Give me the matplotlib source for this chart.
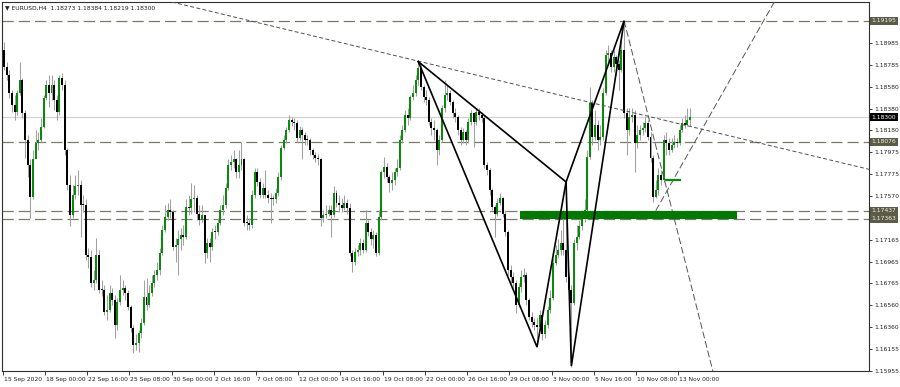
import matplotlib
matplotlib.use("Agg")
import matplotlib.pyplot as plt
from matplotlib import font_manager as fm
import matplotlib.transforms as mtransforms

names = {f.name for f in fm.fontManager.ttflist}
NARROW = 'Liberation Sans Narrow' in names
FONT = 'Liberation Sans Narrow' if NARROW else 'DejaVu Sans'
plt.rcParams['font.family'] = [FONT, 'DejaVu Sans']
FS = 5.0 if NARROW else 4.3

# ---------------- data ----------------
title_text = "\u25bc EURUSD,H4  1.18273 1.18384 1.18219 1.18300"

first_open = 1.1892
closes = [
    1.1877, 1.1869, 1.1853, 1.1841, 1.1835, 1.1853, 1.1865, 1.1834, 1.1809, 1.1786,
    1.1756, 1.1791, 1.1806, 1.1809, 1.1821, 1.1848, 1.1860, 1.1853, 1.1860, 1.1846,
    1.1835, 1.1866, 1.1860, 1.1800, 1.1767, 1.1740, 1.1758, 1.1766, 1.1767, 1.1749,
    1.1749, 1.1703, 1.1701, 1.1677, 1.1679, 1.1703, 1.1670, 1.1670, 1.1650, 1.1652,
    1.1667, 1.1661, 1.1638, 1.1659, 1.1670, 1.1672, 1.1667, 1.1654, 1.1635, 1.1619,
    1.1621, 1.1630, 1.1640, 1.1664, 1.1656, 1.1667, 1.1677, 1.1684, 1.1689, 1.1704,
    1.1726, 1.1738, 1.1744, 1.1742, 1.1710, 1.1712, 1.1717, 1.1721, 1.1719, 1.1747,
    1.1746, 1.1754, 1.1755, 1.1741, 1.1735, 1.1740, 1.1704, 1.1714, 1.1710, 1.1724,
    1.1724, 1.1732, 1.1744, 1.1749, 1.1765, 1.1786, 1.1789, 1.1791, 1.1779, 1.1786,
    1.1791, 1.1732, 1.1732, 1.1730, 1.1758, 1.1779, 1.1770, 1.1758, 1.1765, 1.1758,
    1.1755, 1.1754, 1.1754, 1.1760, 1.1775, 1.1802, 1.1809, 1.1818, 1.1828, 1.1826,
    1.1825, 1.1811, 1.1818, 1.1814, 1.1809, 1.1809, 1.1800, 1.1795, 1.1792, 1.1791,
    1.1737, 1.1740, 1.1741, 1.1744, 1.1740, 1.1760, 1.1751, 1.1749, 1.1746, 1.1751,
    1.1746, 1.1704, 1.1696, 1.1705, 1.1707, 1.1714, 1.1707, 1.1732, 1.1724, 1.1717,
    1.1721, 1.1704, 1.1738, 1.1779, 1.1784, 1.1775, 1.1769, 1.1772, 1.1779, 1.1783,
    1.1809, 1.1818, 1.1832, 1.1829, 1.1849, 1.1853, 1.1865, 1.1876, 1.1858, 1.1849,
    1.1846, 1.1826, 1.1820, 1.1818, 1.1800, 1.1809, 1.1839, 1.1851, 1.1853, 1.1844,
    1.1834, 1.1830, 1.1818, 1.1809, 1.1816, 1.1809, 1.1826, 1.1834, 1.1826, 1.1835,
    1.1832, 1.1829, 1.1786, 1.1781, 1.1763, 1.1747, 1.1741, 1.1751, 1.1755, 1.1741,
    1.1724, 1.1689, 1.1682, 1.1677, 1.1656, 1.1673, 1.1682, 1.1684, 1.1661, 1.1645,
    1.1641, 1.1638, 1.1636, 1.1647, 1.1629, 1.1638, 1.1652, 1.1663, 1.1695, 1.1703,
    1.1707, 1.1714, 1.1707, 1.1682, 1.1670, 1.1658, 1.1714, 1.1719, 1.1729, 1.1738,
    1.1744, 1.1793, 1.1843, 1.1812, 1.1823, 1.1809, 1.1812, 1.1853, 1.1888, 1.1890,
    1.1877, 1.1886, 1.1879, 1.1874, 1.1892, 1.1834, 1.1818, 1.1830, 1.1832, 1.1806,
    1.1814, 1.1818, 1.1820, 1.1825, 1.1812, 1.1792, 1.1756, 1.1763, 1.1777, 1.1772,
    1.1809, 1.1806, 1.1800, 1.1804, 1.1807, 1.1806, 1.1818, 1.1825, 1.1823, 1.18273,
    1.18300,
]
highs = [
    1.1900, 1.1881, 1.1874, 1.1855, 1.1851, 1.1855, 1.1881, 1.1866, 1.1837, 1.1814,
    1.1791, 1.1800, 1.1818, 1.1816, 1.1829, 1.1851, 1.1865, 1.1869, 1.1869, 1.1865,
    1.1851, 1.1869, 1.1871, 1.1865, 1.1802, 1.1777, 1.1767, 1.1777, 1.1781, 1.1772,
    1.1758, 1.1754, 1.1709, 1.1707, 1.1689, 1.1718, 1.1707, 1.1679, 1.1675, 1.1666,
    1.1675, 1.1672, 1.1666, 1.1663, 1.1684, 1.1679, 1.1675, 1.1670, 1.1656, 1.1638,
    1.1629, 1.1633, 1.1644, 1.1679, 1.1681, 1.1675, 1.1684, 1.1689, 1.1696, 1.1709,
    1.1730, 1.1749, 1.1751, 1.1754, 1.1744, 1.1718, 1.1726, 1.1728, 1.1730, 1.1754,
    1.1758, 1.1769, 1.1767, 1.1758, 1.1749, 1.1749, 1.1740, 1.1718, 1.1718, 1.1728,
    1.1730, 1.1737, 1.1749, 1.1758, 1.1769, 1.1791, 1.1795, 1.1800, 1.1792, 1.1800,
    1.1807, 1.1792, 1.1740, 1.1737, 1.1763, 1.1783, 1.1783, 1.1774, 1.1769, 1.1781,
    1.1763, 1.1760, 1.1758, 1.1765, 1.1779, 1.1804, 1.1814, 1.1821, 1.1832, 1.1830,
    1.1829, 1.1828, 1.1822, 1.1821, 1.1816, 1.1814, 1.1811, 1.1802, 1.1798, 1.1796,
    1.1792, 1.1744, 1.1749, 1.1749, 1.1749, 1.1766, 1.1763, 1.1758, 1.1755, 1.1758,
    1.1754, 1.1751, 1.1707, 1.1709, 1.1712, 1.1718, 1.1717, 1.1744, 1.1735, 1.1728,
    1.1726, 1.1724, 1.1744, 1.1781, 1.1793, 1.1788, 1.1777, 1.1779, 1.1783, 1.1791,
    1.1814, 1.1823, 1.1837, 1.1839, 1.1851, 1.1860, 1.1869, 1.1882, 1.1879, 1.1860,
    1.1855, 1.1849, 1.1829, 1.1828, 1.1820, 1.1814, 1.1841, 1.1865, 1.1860, 1.1855,
    1.1846, 1.1839, 1.1832, 1.1821, 1.1820, 1.1818, 1.1829, 1.1837, 1.1835, 1.1839,
    1.1839, 1.1835, 1.1832, 1.1789, 1.1783, 1.1765, 1.1749, 1.1755, 1.1760, 1.1756,
    1.1744, 1.1726, 1.1693, 1.1687, 1.1679, 1.1677, 1.1689, 1.1691, 1.1687, 1.1663,
    1.1650, 1.1644, 1.1644, 1.1652, 1.1649, 1.1642, 1.1655, 1.1670, 1.1700, 1.1712,
    1.1717, 1.1726, 1.1744, 1.1744, 1.1687, 1.1675, 1.1717, 1.1730, 1.1735, 1.1744,
    1.1754, 1.1800, 1.1858, 1.1846, 1.1837, 1.1828, 1.1823, 1.1857, 1.1892, 1.1897,
    1.1892, 1.1892, 1.1888, 1.1883, 1.1902, 1.19195, 1.1839, 1.1839, 1.1839, 1.1837,
    1.1823, 1.1823, 1.1826, 1.1830, 1.1828, 1.1816, 1.1795, 1.1772, 1.1783, 1.1781,
    1.1814, 1.1816, 1.1811, 1.1811, 1.1814, 1.1811, 1.1823, 1.1829, 1.1832, 1.1839,
    1.18384,
]
lows = [
    1.1874, 1.1865, 1.1848, 1.1835, 1.1828, 1.1832, 1.1851, 1.1829, 1.1792, 1.1775,
    1.1737, 1.1754, 1.1793, 1.1800, 1.1807, 1.1820, 1.1846, 1.1840, 1.1846, 1.1837,
    1.1828, 1.1832, 1.1855, 1.1795, 1.1763, 1.1729, 1.1737, 1.1754, 1.1758, 1.1719,
    1.1742, 1.1698, 1.1691, 1.1673, 1.1670, 1.1677, 1.1667, 1.1665, 1.1647, 1.1642,
    1.1650, 1.1656, 1.1626, 1.1633, 1.1656, 1.1666, 1.1661, 1.1652, 1.1631, 1.1612,
    1.1615, 1.1613, 1.1626, 1.1638, 1.1652, 1.1654, 1.1665, 1.1673, 1.1679, 1.1684,
    1.1703, 1.1724, 1.1735, 1.1737, 1.1707, 1.1696, 1.1684, 1.1707, 1.1712, 1.1717,
    1.1740, 1.1741, 1.1742, 1.1735, 1.1730, 1.1733, 1.1695, 1.1700, 1.1696, 1.1707,
    1.1717, 1.1721, 1.1730, 1.1740, 1.1746, 1.1763, 1.1781, 1.1783, 1.1774, 1.1774,
    1.1781, 1.1729, 1.1726, 1.1726, 1.1728, 1.1755, 1.1766, 1.1755, 1.1755, 1.1755,
    1.1751, 1.1732, 1.1749, 1.1751, 1.1757, 1.1772, 1.1800, 1.1806, 1.1816, 1.1822,
    1.1818, 1.1807, 1.1809, 1.1791, 1.1804, 1.1804, 1.1795, 1.1791, 1.1789, 1.1786,
    1.1729, 1.1733, 1.1737, 1.1739, 1.1719, 1.1738, 1.1747, 1.1742, 1.1742, 1.1744,
    1.1741, 1.1702, 1.1687, 1.1693, 1.1702, 1.1703, 1.1704, 1.1705, 1.1720, 1.1712,
    1.1709, 1.1702, 1.1703, 1.1735, 1.1774, 1.1770, 1.1761, 1.1763, 1.1767, 1.1776,
    1.1781, 1.1806, 1.1816, 1.1823, 1.1828, 1.1846, 1.1850, 1.1860, 1.1855, 1.1844,
    1.1841, 1.1823, 1.1814, 1.1809, 1.1786, 1.1795, 1.1807, 1.1835, 1.1846, 1.1841,
    1.1829, 1.1826, 1.1814, 1.1804, 1.1806, 1.1804, 1.1806, 1.1823, 1.1803, 1.1823,
    1.1828, 1.1826, 1.1783, 1.1777, 1.1758, 1.1744, 1.1719, 1.1739, 1.1749, 1.1738,
    1.1720, 1.1684, 1.1677, 1.1670, 1.1649, 1.1654, 1.1668, 1.1678, 1.1656, 1.1642,
    1.1636, 1.1633, 1.1617, 1.1633, 1.1624, 1.1626, 1.1635, 1.1649, 1.1661, 1.1693,
    1.1700, 1.1703, 1.1703, 1.1678, 1.1661, 1.1599, 1.1656, 1.1707, 1.1717, 1.1726,
    1.1733, 1.1742, 1.1791, 1.1804, 1.1809, 1.1800, 1.1804, 1.1809, 1.1851, 1.1881,
    1.1872, 1.1872, 1.1869, 1.1855, 1.1872, 1.1829, 1.1795, 1.1814, 1.1826, 1.1779,
    1.1802, 1.1809, 1.1814, 1.1816, 1.1809, 1.1789, 1.1752, 1.1755, 1.1758, 1.1767,
    1.1770, 1.1795, 1.1795, 1.1798, 1.1802, 1.1803, 1.1804, 1.1816, 1.1820, 1.1822,
    1.18219,
]

x_labels = ["15 Sep 2020", "18 Sep 00:00", "22 Sep 16:00", "25 Sep 08:00",
            "30 Sep 00:00", "2 Oct 16:00", "7 Oct 08:00", "12 Oct 00:00",
            "14 Oct 16:00", "19 Oct 08:00", "22 Oct 00:00", "26 Oct 16:00",
            "29 Oct 08:00", "3 Nov 00:00", "5 Nov 16:00", "10 Nov 08:00",
            "13 Nov 00:00"]
x_label_bars = [0, 16, 32, 48, 64, 80, 96, 112, 128, 144, 160, 176, 192, 208, 224, 240, 256]

price_ticks = [1.19195, 1.18985, 1.18785, 1.18580, 1.18380, 1.18180, 1.17975,
               1.17775, 1.17570, 1.17370, 1.17165, 1.16965, 1.16765, 1.16560,
               1.16360, 1.16155, 1.15955]
level_lines = [1.19195, 1.18076, 1.17437, 1.17363]
bid_price = 1.18300

# harmonic pattern points X, A, B, C, D
pattern_bars = [157, 202, 213, 215, 235]
pattern_prices = [1.18816, 1.16174, 1.17702, 1.15998, 1.19195]

trend_bars = [140, 220]
trend_prices = [1.18920, 1.18451]
ray1_bars = [235, 266]
ray1_prices = [1.19195, 1.16204]
ray2_bars = [247, 280]
ray2_prices = [1.17437, 1.18856]
zone_bars = [195.5, 277.8]
zone_prices = [1.17363, 1.17437]
mark_bars = [251, 256]
mark_price = 1.17720

# ---------------- figure ----------------
W, H = 900, 387
fig = plt.figure(figsize=(W / 100, H / 100), dpi=100)
fig.patch.set_facecolor('white')
ax = fig.add_axes([2 / W, 16 / H, 867 / W, 369 / H])
ax.set_facecolor('white')
ax.set_xlim(-0.76, 327.8)
ax.set_ylim(1.15952, 1.19368)

for s in ax.spines.values():
    s.set_color('#303030')
    s.set_linewidth(0.8)

opens = [first_open] + closes[:-1]
n = len(closes)
xs = list(range(n))

BULL = '#0a8a0a'
# wicks
ax.vlines(xs, lows, highs, colors='#a0a0a0', linewidth=0.75, zorder=2)
# bodies
for i in range(n):
    o, c = opens[i], closes[i]
    lo = min(o, c)
    h = max(abs(c - o), 0.00009)
    col = BULL if c > o else 'black'
    ax.bar(i, h, bottom=lo, width=0.75, color=col, edgecolor='none',
           linewidth=0, zorder=3)

# horizontal levels
for lv in level_lines:
    ax.axhline(lv, color='#7a7a68', linewidth=0.9, dashes=(9, 4), zorder=1.5)
ax.axhline(bid_price, color='#d2d2d2', linewidth=0.9, zorder=1.2)

# long trend line
ax.axline((trend_bars[0], trend_prices[0]), (trend_bars[1], trend_prices[1]),
          color='#505050', linewidth=0.7, dashes=(4, 2.5), zorder=4)

# rays from pattern
def ray(bars, prices):
    dx = bars[1] - bars[0]
    dy = prices[1] - prices[0]
    return [bars[0], bars[0] + 10 * dx], [prices[0], prices[0] + 10 * dy]

for b, p in [(ray1_bars, ray1_prices), (ray2_bars, ray2_prices)]:
    xr, yr = ray(b, p)
    ax.plot(xr, yr, color='#555555', linewidth=0.7, dashes=(7, 3), zorder=4)

# pattern triangles XAB and BCD
X, A, B, C, D = list(zip(pattern_bars, pattern_prices))
for tri in [(X, A, B), (B, C, D)]:
    px = [tri[0][0], tri[1][0], tri[2][0], tri[0][0]]
    py = [tri[0][1], tri[1][1], tri[2][1], tri[0][1]]
    ax.plot(px, py, color='black', linewidth=1.2, zorder=5, solid_joinstyle='miter')

# green zone
ax.fill_between(zone_bars, zone_prices[0], zone_prices[1], color='#007a00',
                linewidth=0, zorder=4.5)
ax.plot(mark_bars, [mark_price, mark_price], color='#0a8a0a', linewidth=1.6, zorder=5)

# y axis on the right (labels hidden where a boxed level label covers them)
covered = level_lines + [bid_price]
ylabels = [("" if any(abs(v - c) < 0.0001 for c in covered) else f"{v:.5f}")
           for v in price_ticks]
ax.yaxis.tick_right()
ax.set_yticks(price_ticks)
ax.set_yticklabels(ylabels, fontsize=FS, color='#202020')
ax.tick_params(axis='y', length=2.5, width=0.6, pad=1.5, colors='#202020')

# x axis
ax.set_xticks([b - 0.5 for b in x_label_bars])
ax.set_xticklabels(x_labels, fontsize=FS, ha='left', color='#202020')
ax.tick_params(axis='x', length=3, width=0.6, pad=1.5, colors='#202020')
offset = mtransforms.ScaledTranslation(1 / 100, 0, fig.dpi_scale_trans)
for lab in ax.get_xticklabels():
    lab.set_transform(lab.get_transform() + offset)

# boxed price labels
btrans = mtransforms.blended_transform_factory(ax.transAxes, ax.transData)
boff = mtransforms.ScaledTranslation(2.5 / 100, 0, fig.dpi_scale_trans)
for lv in level_lines:
    ax.text(1.0, lv, f"{lv:.5f}", transform=btrans + boff, fontsize=FS, color='#f2f2e6',
            ha='left', va='center', clip_on=False, zorder=10,
            bbox=dict(boxstyle='square,pad=0.25', fc='#5b5b47', ec='none'))
ax.text(1.0, bid_price, f"{bid_price:.5f}", transform=btrans + boff, fontsize=FS,
        color='white', ha='left', va='center', clip_on=False, zorder=10,
        bbox=dict(boxstyle='square,pad=0.25', fc='black', ec='none'))

# title
fig.text(5 / W, 1 - 8 / H, title_text, fontsize=FS, color='#202020', ha='left', va='center')

fig.savefig('out.png', dpi=100, facecolor='white')
